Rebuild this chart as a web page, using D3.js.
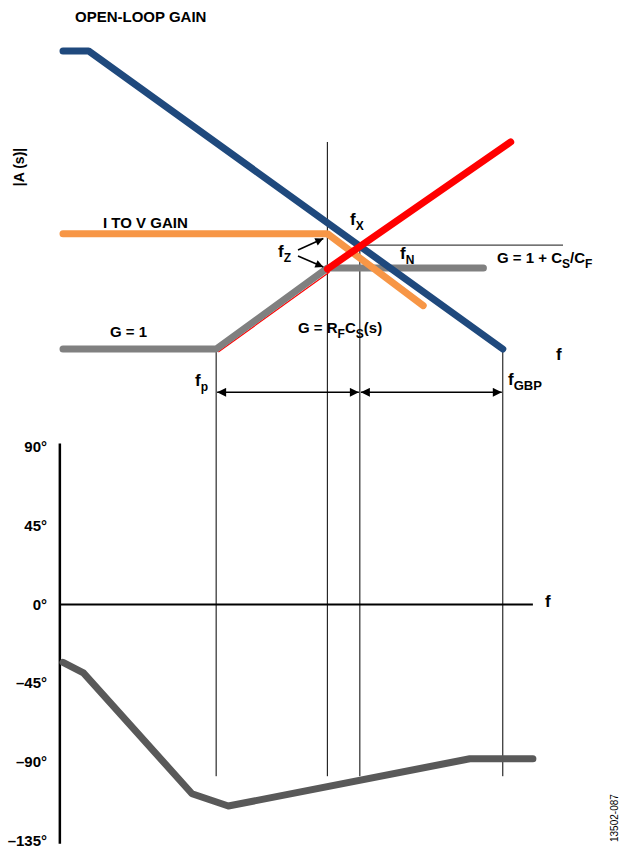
<!DOCTYPE html>
<html>
<head>
<meta charset="utf-8">
<script src="https://cdn.jsdelivr.net/npm/d3@7"></script>
<style>
  body { margin: 0; background: #fff; }
  svg text { font-family: "Liberation Sans", Arial, sans-serif; font-weight: bold; fill: #000; }
</style>
</head>
<body>
<div id="chart"></div>
<script>
// Gain curves: [frequency (Hz), |gain|]
const openLoopGain = [[10, 13800], [18, 13800], [250000, 1]];
const iToVGain = [[10, 40], [4400, 40], [40000, 4]];
const noiseGain = [[10, 1], [340, 1], [4400, 13.3], [160000, 13.3]];
const rfcsGainLow = [[340, 1], [4400, 12.9]];
const rfcsGainHigh = [[4400, 12.9], [300000, 750]];
const highFreqGainRef = [[9300, 27.8], [1000000, 27.8]];

// Phase curve: [frequency (Hz), degrees]
const phaseCurve = [[10, -33], [16, -39], [195, -108], [450, -115], [117000, -88], [500000, -88]];
const phaseTicks = [90, 45, 0, -45, -90, -135];
const phaseTickLabels = ["90°", "45°", "0°", "–45°", "–90°", "–135°"];

// Marker frequencies with top of their guide line (gain) and bottom (phase)
const markerNames = ["fp", "fz", "fN", "fGBP"];
const markerFreqs = [340, 4400, 9300, 250000];
const markerTopGain = [1, 750, 27.8, 1];
const markerBottomPhase = -98;
const spanGain = 0.25;

const width = 621, height = 850;

const x = d3.scaleLog().domain([10, 1e6]).range([63, 563]);
const yGain = d3.scaleLog().domain([1, 10]).range([349, 277]);
const yPhase = d3.scaleLinear().domain([-135, 90]).range([841, 447]);

const svg = d3.select("#chart").append("svg")
    .attr("width", width)
    .attr("height", height);

const defs = svg.append("defs");
defs.append("marker")
    .attr("id", "arrow").attr("viewBox", "0 0 10 10")
    .attr("refX", 10).attr("refY", 5)
    .attr("markerUnits", "userSpaceOnUse")
    .attr("markerWidth", 14).attr("markerHeight", 9)
    .attr("orient", "auto-start-reverse")
    .append("path").attr("d", "M0,0L10,5L0,10Z").attr("fill", "#000");
defs.append("marker")
    .attr("id", "arrowSmall").attr("viewBox", "0 0 10 10")
    .attr("refX", 10).attr("refY", 5)
    .attr("markerUnits", "userSpaceOnUse")
    .attr("markerWidth", 11).attr("markerHeight", 8)
    .attr("orient", "auto")
    .append("path").attr("d", "M0,0L10,5L0,10Z").attr("fill", "#000");

const gainLine = d3.line().x(d => x(d[0])).y(d => yGain(d[1]));
const phaseLine = d3.line().x(d => x(d[0])).y(d => yPhase(d[1]));

// vertical guide lines through both panels
markerFreqs.forEach((f, i) => {
    svg.append("line")
        .attr("x1", x(f)).attr("x2", x(f))
        .attr("y1", yGain(markerTopGain[i])).attr("y2", yPhase(markerBottomPhase))
        .attr("stroke", "#000").attr("stroke-width", 1);
});

// thin reference line at high-frequency gain
svg.append("path").datum(highFreqGainRef)
    .attr("d", gainLine).attr("fill", "none")
    .attr("stroke", "#444").attr("stroke-width", 1.3);

// span arrows
[[0, 2], [2, 3]].forEach(([a, b]) => {
    svg.append("line")
        .attr("x1", x(markerFreqs[a]) + 1).attr("x2", x(markerFreqs[b]) - 1)
        .attr("y1", yGain(spanGain)).attr("y2", yGain(spanGain))
        .attr("stroke", "#000").attr("stroke-width", 1.5)
        .attr("marker-start", "url(#arrow)").attr("marker-end", "url(#arrow)");
});

// curves
const curve = (data, color, w) => svg.append("path").datum(data)
    .attr("d", gainLine).attr("fill", "none")
    .attr("stroke", color).attr("stroke-width", w)
    .attr("stroke-linecap", "round").attr("stroke-linejoin", "round");

svg.append("path").datum(rfcsGainLow)
    .attr("d", gainLine).attr("fill", "none")
    .attr("stroke", "#ff0000").attr("stroke-width", 1.2)
    .attr("transform", "translate(2.2,3)");
curve(noiseGain, "#808080", 7);
curve(openLoopGain, "#1f497d", 7);
curve(iToVGain, "#f79646", 7);
curve(rfcsGainHigh, "#ff0000", 7);

// fz pointer arrows
const fzX = x(markerFreqs[1]);
[[250, 238.5], [256, 267]].forEach(([y0, y1]) => {
    svg.append("line")
        .attr("x1", 298).attr("y1", y0)
        .attr("x2", fzX - 4).attr("y2", y1)
        .attr("stroke", "#000").attr("stroke-width", 1.5)
        .attr("marker-end", "url(#arrowSmall)");
});

// phase panel axes
svg.append("line")
    .attr("x1", x(9.3)).attr("x2", x(9.3))
    .attr("y1", yPhase(92)).attr("y2", yPhase(-136.5))
    .attr("stroke", "#000").attr("stroke-width", 2.5);
svg.append("line")
    .attr("x1", x(9.3)).attr("x2", x(500000))
    .attr("y1", yPhase(0)).attr("y2", yPhase(0))
    .attr("stroke", "#000").attr("stroke-width", 2);

svg.selectAll(".ptick").data(phaseTicks).enter().append("text")
    .attr("class", "ptick")
    .attr("x", 47).attr("y", d => yPhase(d) + 5)
    .attr("text-anchor", "end").attr("font-size", 15)
    .text((d, i) => phaseTickLabels[i]);

svg.append("path").datum(phaseCurve)
    .attr("d", phaseLine).attr("fill", "none")
    .attr("stroke", "#595959").attr("stroke-width", 7)
    .attr("stroke-linecap", "round").attr("stroke-linejoin", "round");

// labels: strings are normal text, {sub} objects are subscripts
function label(px, py, parts, size) {
    const t = svg.append("text").attr("x", px).attr("y", py).attr("font-size", size || 15);
    let lowered = false;
    parts.forEach(p => {
        if (typeof p === "string") {
            t.append("tspan").attr("dy", lowered ? -5 : null).text(p);
            lowered = false;
        } else {
            t.append("tspan").attr("font-size", p.size || 12).attr("dy", lowered ? null : 5).text(p.sub);
            lowered = true;
        }
    });
    return t;
}

label(75, 22, ["OPEN-LOOP GAIN"]);
svg.append("text")
    .attr("transform", "translate(24,167) rotate(-90)")
    .attr("text-anchor", "middle").attr("font-size", 14)
    .text("|A (s)|");
label(103, 228, ["I TO V GAIN"]);
label(350, 225, ["f", { sub: "X" }], 17);
label(278, 257, ["f", { sub: "Z" }], 17);
label(400, 259, ["f", { sub: "N" }], 17);
label(497, 263, ["G = 1 + C", { sub: "S" }, "/C", { sub: "F" }]);
label(110, 337, ["G = 1"]);
label(298, 333, ["G = R", { sub: "F" }, "C", { sub: "S" }, "(s)"]);
label(556, 360, ["f"], 17);
label(195, 386, ["f", { sub: "p" }], 17);
label(508, 385, ["f", { sub: "GBP", size: 13 }], 17);
label(545, 607, ["f"], 17);

svg.append("text")
    .attr("transform", "translate(618,842) rotate(-90)")
    .attr("font-size", 10).style("font-weight", "normal")
    .text("13502-087");
</script>
</body>
</html>
